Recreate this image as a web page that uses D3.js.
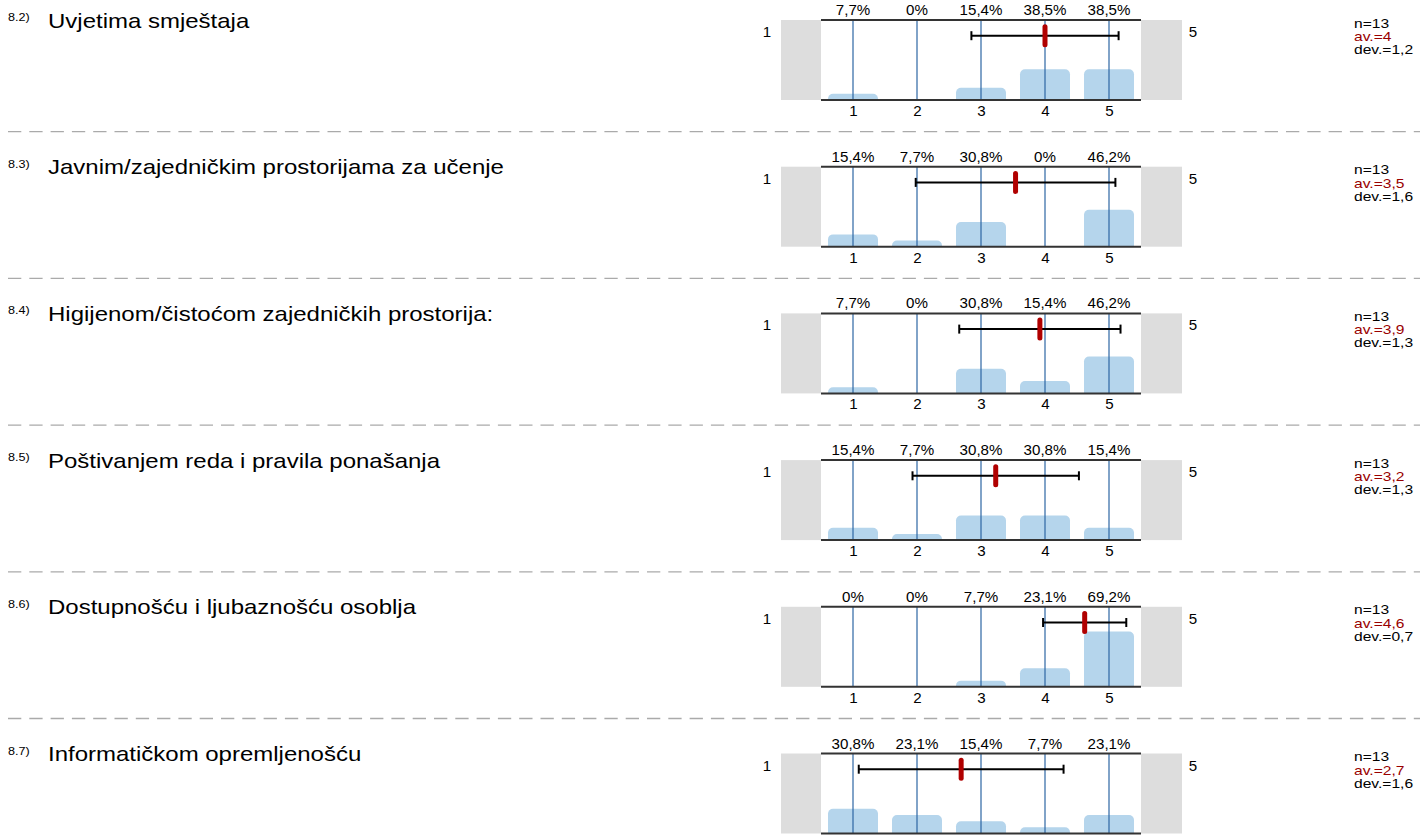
<!DOCTYPE html>
<html>
<head>
<meta charset="utf-8">
<script src="https://cdn.jsdelivr.net/npm/d3@7"></script>
<style>
  html, body { margin: 0; padding: 0; background: #fff; }
  svg { display: block; font-family: Arial, "Liberation Sans", sans-serif; }
</style>
</head>
<body>
<svg id="chart" width="1420" height="839"></svg>
<script>
// ---- data ----
const categories = [1, 2, 3, 4, 5];
const questionIds = ["8.2)", "8.3)", "8.4)", "8.5)", "8.6)", "8.7)"];
const questionLabels = [
  "Uvjetima smještaja",
  "Javnim/zajedničkim prostorijama za učenje",
  "Higijenom/čistoćom zajedničkih prostorija:",
  "Poštivanjem reda i pravila ponašanja",
  "Dostupnošću i ljubaznošću osoblja",
  "Informatičkom opremljenošću"
];
const pct82 = [7.7, 0, 15.4, 38.5, 38.5];
const pct83 = [15.4, 7.7, 30.8, 0, 46.2];
const pct84 = [7.7, 0, 30.8, 15.4, 46.2];
const pct85 = [15.4, 7.7, 30.8, 30.8, 15.4];
const pct86 = [0, 0, 7.7, 23.1, 69.2];
const pct87 = [30.8, 23.1, 15.4, 7.7, 23.1];
const pctLabels82 = ["7,7%", "0%", "15,4%", "38,5%", "38,5%"];
const pctLabels83 = ["15,4%", "7,7%", "30,8%", "0%", "46,2%"];
const pctLabels84 = ["7,7%", "0%", "30,8%", "15,4%", "46,2%"];
const pctLabels85 = ["15,4%", "7,7%", "30,8%", "30,8%", "15,4%"];
const pctLabels86 = ["0%", "0%", "7,7%", "23,1%", "69,2%"];
const pctLabels87 = ["30,8%", "23,1%", "15,4%", "7,7%", "23,1%"];
const nValues = [13, 13, 13, 13, 13, 13];
const means = [4.0, 3.54, 3.92, 3.23, 4.62, 2.69];
const devs = [1.15, 1.56, 1.26, 1.30, 0.65, 1.60];
const meanLabels = ["4", "3,5", "3,9", "3,2", "4,6", "2,7"];
const devLabels = ["1,2", "1,6", "1,3", "1,3", "0,7", "1,6"];
const scaleMinLabel = "1";
const scaleMaxLabel = "5";

const series = [pct82, pct83, pct84, pct85, pct86, pct87];
const seriesLabels = [pctLabels82, pctLabels83, pctLabels84, pctLabels85, pctLabels86, pctLabels87];

// ---- layout ----
const svg = d3.select("#chart");
const panelTop0 = 20, panelStep = 146.7, boxH = 80;
const x = d3.scaleLinear().domain([0.5, 5.5]).range([821, 1141]);
const barW = 50;
const colBar = "#b5d5ec", colGrid = "#2d66a3", colGray = "#dddddd", colRed = "#b00000", colAv = "#990000";

function addText(g, tx, ty, str, size, sx, anchor, fill) {
  return g.append("text")
    .attr("transform", `translate(${tx},${ty}) scale(${sx},1)`)
    .attr("font-size", size)
    .attr("text-anchor", anchor || "start")
    .attr("fill", fill || "#000")
    .text(str);
}

function topRoundedBar(x0, y0, w, h, r) {
  r = Math.min(r, h, w / 2);
  const p = d3.path();
  p.moveTo(x0, y0 + h);
  p.lineTo(x0, y0 + r);
  p.arcTo(x0, y0, x0 + r, y0, r);
  p.lineTo(x0 + w - r, y0);
  p.arcTo(x0 + w, y0, x0 + w, y0 + r, r);
  p.lineTo(x0 + w, y0 + h);
  p.closePath();
  return p.toString();
}

series.forEach((vals, i) => {
  const top = panelTop0 + i * panelStep;
  const bottom = top + boxH;
  const y = d3.scaleLinear().domain([0, 100]).range([bottom, top]);
  const g = svg.append("g");

  // question labels
  addText(g, 8, top + 1, questionIds[i], 10.5, 1.2);
  addText(g, 48, top + 7.5, questionLabels[i], 20, 1.2);

  // gray end boxes
  g.append("rect").attr("x", 781).attr("y", top).attr("width", x(0.5) - 781).attr("height", boxH).attr("fill", colGray);
  g.append("rect").attr("x", x(5.5)).attr("y", top).attr("width", 1182 - x(5.5)).attr("height", boxH).attr("fill", colGray);

  // end labels
  addText(g, 767, top + 17, scaleMinLabel, 14, 1.08, "middle");
  addText(g, 1193, top + 17, scaleMaxLabel, 14, 1.08, "middle");

  // bars
  g.selectAll("path.bar").data(vals).join("path")
    .attr("class", "bar")
    .attr("fill", colBar)
    .attr("d", (d, j) => {
      const h = bottom - y(d);
      if (h <= 0) return null;
      return topRoundedBar(x(categories[j]) - barW / 2, y(d), barW, h, 5);
    });

  // vertical grid lines
  g.selectAll("line.grid").data(categories).join("line")
    .attr("x1", d => x(d)).attr("x2", d => x(d))
    .attr("y1", top).attr("y2", bottom)
    .attr("stroke", colGrid).attr("stroke-width", 1.2);

  // top / bottom frame lines
  g.append("line").attr("x1", x(0.5)).attr("x2", x(5.5)).attr("y1", top).attr("y2", top).attr("stroke", "#333").attr("stroke-width", 2);
  g.append("line").attr("x1", x(0.5)).attr("x2", x(5.5)).attr("y1", bottom).attr("y2", bottom).attr("stroke", "#333").attr("stroke-width", 2);

  // percentage labels
  seriesLabels[i].forEach((lab, j) => {
    addText(g, x(categories[j]), top - 5, lab, 14, 1.08, "middle");
  });

  // axis tick labels
  const axis = d3.axisBottom(x).tickValues(categories).tickSize(0).tickPadding(6).tickFormat(d3.format("d"));
  const ag = g.append("g").attr("transform", `translate(0,${bottom})`).call(axis);
  ag.select(".domain").remove();
  ag.selectAll("text").attr("font-size", 14).attr("fill", "#000")
    .attr("font-family", "Arial, 'Liberation Sans', sans-serif")
    .attr("transform", "scale(1.08,1)");

  // error bar
  const ey = top + 15.7;
  const lo = x(means[i] - devs[i]), hi = x(means[i] + devs[i]);
  g.append("line").attr("x1", lo).attr("x2", hi).attr("y1", ey).attr("y2", ey).attr("stroke", "#000").attr("stroke-width", 2);
  [lo, hi].forEach(cx => {
    g.append("line").attr("x1", cx).attr("x2", cx).attr("y1", ey - 4.5).attr("y2", ey + 4.5).attr("stroke", "#000").attr("stroke-width", 2);
  });
  // mean marker
  g.append("line").attr("x1", x(means[i])).attr("x2", x(means[i]))
    .attr("y1", ey - 9).attr("y2", ey + 9)
    .attr("stroke", colRed).attr("stroke-width", 5).attr("stroke-linecap", "round");

  // stats
  addText(g, 1354, top + 7.5, "n=" + nValues[i], 12, 1.3);
  addText(g, 1354, top + 21, "av.=" + meanLabels[i], 12, 1.3, "start", colAv);
  addText(g, 1354, top + 34, "dev.=" + devLabels[i], 12, 1.3);

  // separator
  if (i < series.length - 1) {
    const sy = top + 111.7;
    g.append("line").attr("x1", 8).attr("x2", 1420).attr("y1", sy).attr("y2", sy)
      .attr("stroke", "#aaa").attr("stroke-width", 1.3).attr("stroke-dasharray", "13.3,8");
  }
});
</script>
</body>
</html>
